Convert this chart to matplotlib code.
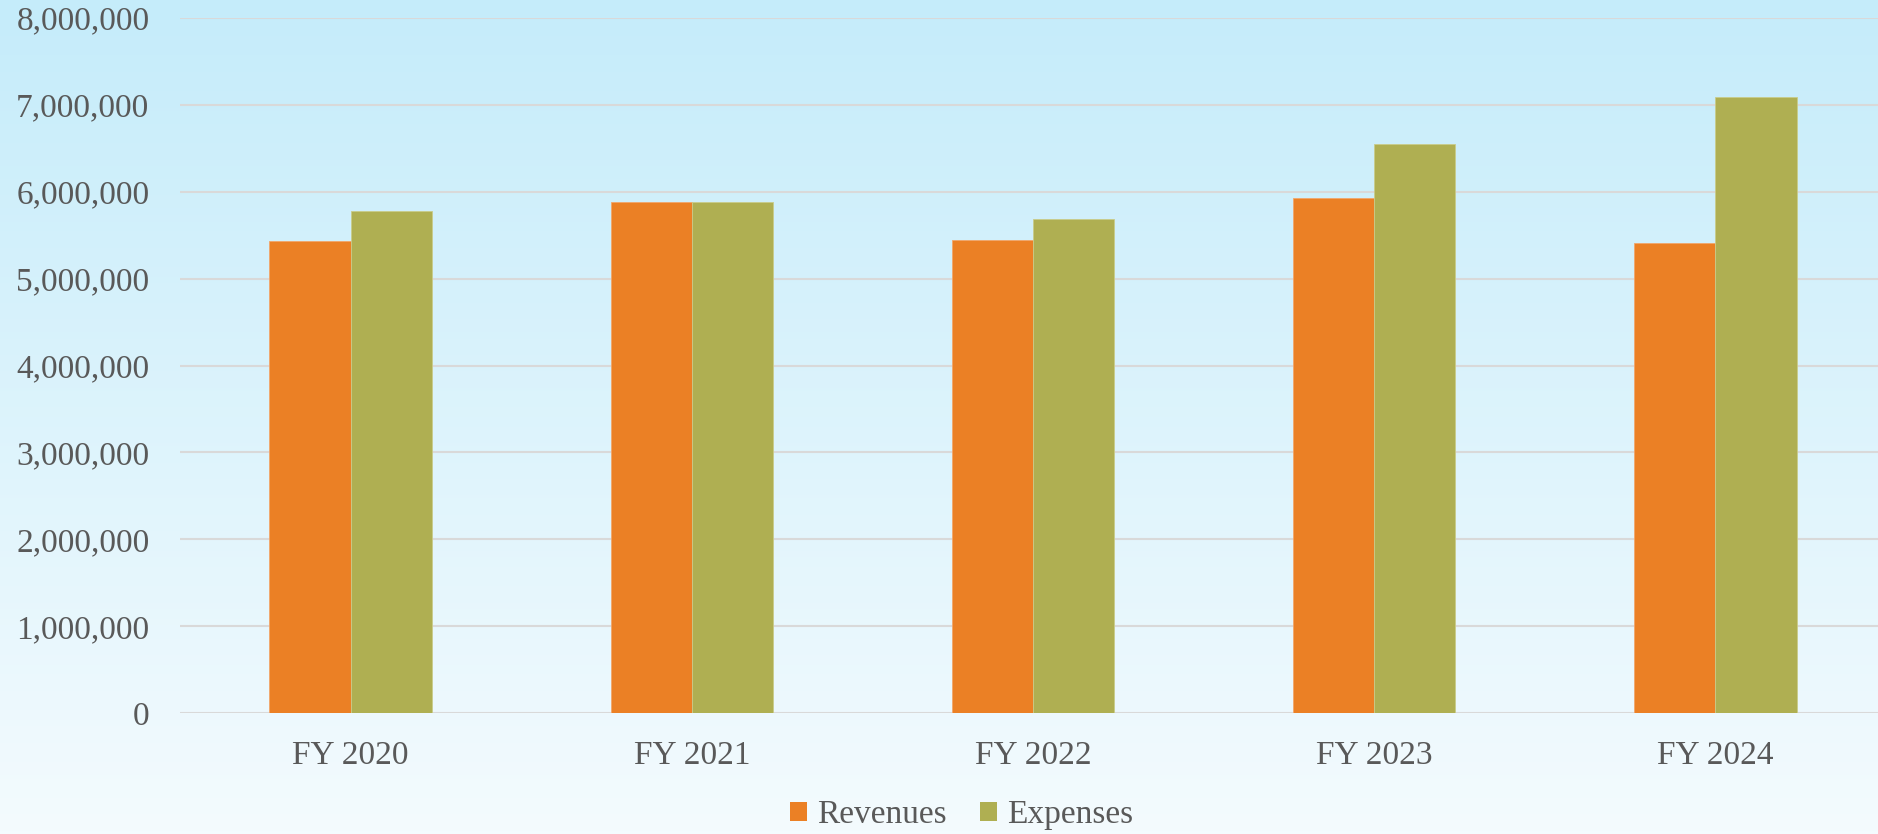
import matplotlib.pyplot as plt
import numpy as np
from matplotlib.patches import Patch
from matplotlib.ticker import FuncFormatter

years = ["FY 2020", "FY 2021", "FY 2022", "FY 2023", "FY 2024"]
revenues = [5430000, 5880000, 5440000, 5926000, 5410000]
expenses = [5777000, 5880000, 5690000, 6548000, 7085000]

REV_COLOR = "#EB8025"
EXP_COLOR = "#AFAF52"
TEXT_COLOR = "#595959"
GRID_COLOR = "#D9D9D9"

plt.rcParams["font.family"] = ["Liberation Serif", "DejaVu Serif"]

W, H = 1878, 834
fig = plt.figure(figsize=(W / 100, H / 100), dpi=100)

# background gradient, light blue at top fading to near white
bg = fig.add_axes([0, 0, 1, 1], zorder=0)
top = np.array([197, 236, 250]) / 255
bottom = np.array([244, 251, 254]) / 255
t = np.linspace(0, 1, 256)[:, None]
grad = top * (1 - t) + bottom * t
bg.imshow(grad[:, None, :], aspect="auto", extent=[0, 1, 0, 1])
bg.axis("off")

ax = fig.add_axes([180 / W, 121 / H, 1706 / W, 695 / H], zorder=1)
ax.set_facecolor("none")

x = np.arange(len(years))
w = 0.238
ax.bar(x - w / 2, revenues, w, color=REV_COLOR, edgecolor="#F2A66A", linewidth=0.6, zorder=3)
ax.bar(x + w / 2, expenses, w, color=EXP_COLOR, edgecolor="#C9CC8A", linewidth=0.6, zorder=3)

ax.set_xlim(-0.5, len(years) - 0.5)
ax.set_ylim(0, 8000000)
ax.set_yticks(np.arange(0, 8000001, 1000000))
ax.yaxis.set_major_formatter(FuncFormatter(lambda v, _: f"{int(v):,}"))
ax.set_xticks(x)
ax.set_xticklabels(years)
ax.grid(axis="y", color=GRID_COLOR, linewidth=1.5, zorder=0)
ax.set_axisbelow(True)
for s in ax.spines.values():
    s.set_visible(False)
ax.tick_params(axis="both", length=0, labelsize=24, labelcolor=TEXT_COLOR)
ax.tick_params(axis="y", pad=22)
ax.tick_params(axis="x", pad=20)

handles = [Patch(facecolor=REV_COLOR, label="Revenues"),
           Patch(facecolor=EXP_COLOR, label="Expenses")]
fig.legend(handles=handles, loc="center", bbox_to_anchor=(0.512, 0.023), ncol=2,
           frameon=False, fontsize=24, labelcolor=TEXT_COLOR,
           handlelength=0.5, handleheight=0.5, handletextpad=0.3, columnspacing=1.0)

fig.savefig("out.png", dpi=100)
